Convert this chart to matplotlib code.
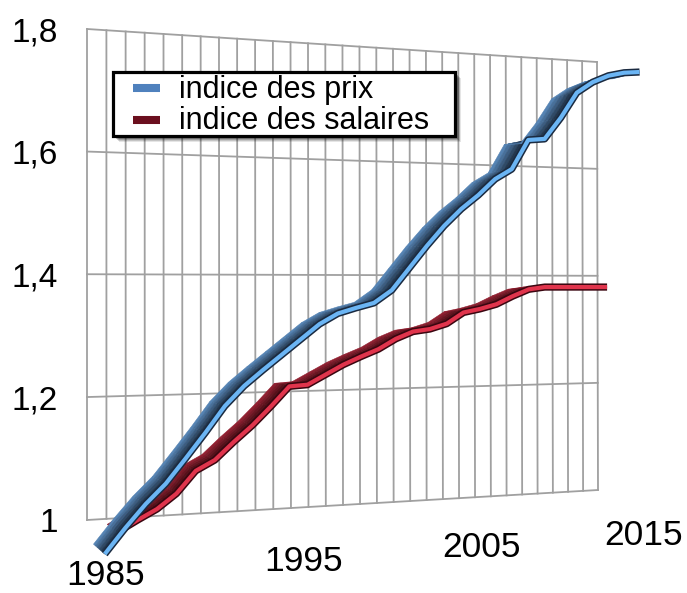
import numpy as np
import matplotlib
matplotlib.use("Agg")
import matplotlib.pyplot as plt
from matplotlib import transforms as mtransforms
from matplotlib.patches import Polygon, Rectangle

# ---------------- data ----------------
annees_prix = list(range(1985, 2016))
indice_prix = [0.970, 1.008, 1.043, 1.073, 1.111, 1.150, 1.191, 1.222, 1.247, 1.271,
               1.295, 1.319, 1.336, 1.345, 1.353, 1.374, 1.411, 1.448, 1.482, 1.511,
               1.535, 1.563, 1.581, 1.632, 1.635, 1.673, 1.718, 1.738, 1.751, 1.758,
               1.761]
annees_salaires = list(range(1986, 2015))
indice_salaires = [0.992, 1.009, 1.025, 1.048, 1.083, 1.099, 1.127, 1.153, 1.183, 1.215,
                   1.217, 1.233, 1.249, 1.262, 1.274, 1.291, 1.303, 1.307, 1.316, 1.335,
                   1.341, 1.349, 1.363, 1.375, 1.379, 1.379, 1.379, 1.379, 1.379]
series_labels = ["indice des prix", "indice des salaires"]
y_ticks = [1.0, 1.2, 1.4, 1.6, 1.8]
y_tick_labels = ["1", "1,2", "1,4", "1,6", "1,8"]
x_ticks = [1985, 1995, 2005, 2015]
x_tick_labels = ["1985", "1995", "2005", "2015"]

X_MIN, X_MAX = 1985, 2015
Y_MIN, Y_MAX = 1.0, 1.8

FONT = ["Liberation Sans", "DejaVu Sans"]

# ---------------- perspective (3-D look) ----------------
wall_src = [(0, 0), (1, 0), (1, 1), (0, 1)]
wall_dst = [(87, 520), (598, 490), (597, 62), (87, 29)]
VANISH = (-201.0, 286.0)   # vanishing point of the depth direction


def homography(src, dst):
    A, b = [], []
    for (u, v), (x, y) in zip(src, dst):
        A.append([u, v, 1, 0, 0, 0, -u * x, -v * x]); b.append(x)
        A.append([0, 0, 0, u, v, 1, -u * y, -v * y]); b.append(y)
    h = np.linalg.solve(np.array(A, float), np.array(b, float))
    return np.append(h, 1.0).reshape(3, 3)


HW = homography(wall_src, wall_dst)
ZC = np.array([VANISH[0], VANISH[1], 1.0])


class Persp(mtransforms.Transform):
    """(year, value) on a plane parallel to the wall at depth s -> pixels."""
    input_dims = 2
    output_dims = 2
    is_separable = False
    has_inverse = False

    def __init__(self, s=0.0):
        super().__init__()
        self.s = s

    def transform_non_affine(self, values):
        values = np.asarray(values, float).reshape(-1, 2)
        u = (values[:, 0] - X_MIN) / (X_MAX - X_MIN)
        v = (values[:, 1] - Y_MIN) / (Y_MAX - Y_MIN)
        vec = HW @ np.vstack([u, v, np.ones_like(u)]) + self.s * ZC[:, None]
        return np.column_stack([vec[0] / vec[2], vec[1] / vec[2]])


fig = plt.figure(figsize=(6.87, 5.93), dpi=100)
ax = fig.add_axes([0, 0, 1, 1])
ax.set_xlim(0, 687)
ax.set_ylim(593, 0)
ax.axis("off")

wall = Persp(0.0) + ax.transData

# wall grid
GRID = "#a0a0a0"
for yr in range(X_MIN, X_MAX + 1):
    ax.plot([yr, yr], [Y_MIN, Y_MAX], transform=wall, color=GRID, lw=1.3, zorder=1)
for val in y_ticks:
    ax.plot([X_MIN, X_MAX], [val, val], transform=wall, color=GRID, lw=1.3, zorder=1)

# y tick labels next to the wall
ylab_tr = wall + mtransforms.ScaledTranslation(-0.29, -0.12, fig.dpi_scale_trans)
for val, lab in zip(y_ticks, y_tick_labels):
    ax.text(X_MIN, val, lab, transform=ylab_tr, ha="right", va="baseline",
            fontsize=24, family=FONT, color="black")

# x tick labels at the front
xlab_tr = Persp(-0.062) + ax.transData + \
    mtransforms.ScaledTranslation(0, -0.07, fig.dpi_scale_trans)
for yr, lab in zip(x_ticks, x_tick_labels):
    ax.text(yr, 0.935, lab, transform=xlab_tr, ha="center", va="baseline",
            fontsize=25.5, family=FONT, color="black")


def mix(c1, c2, t):
    c1 = np.array(matplotlib.colors.to_rgb(c1))
    c2 = np.array(matplotlib.colors.to_rgb(c2))
    return tuple(c1 + (c2 - c1) * t)


def ribbon(xs, ys, s_front, depth, face_back, face_front, edge_dark, edge_light, z):
    pts = np.column_stack([xs, ys])
    n_strip = 6
    ss = np.linspace(s_front + depth, s_front, n_strip + 1)
    scr = [Persp(s).transform(pts) for s in ss]
    for i in range(len(xs) - 1):
        for j in range(n_strip):
            a, b = scr[j], scr[j + 1]
            quad = [a[i], a[i + 1], b[i + 1], b[i]]
            col = mix(face_back, face_front, (j + 0.5) / n_strip)
            ax.add_patch(Polygon(quad, closed=True, fc=col, ec=col, lw=0.4, zorder=z))
    front = Persp(s_front) + ax.transData
    ax.plot(xs, ys, transform=front, color=edge_dark, lw=5.2, zorder=z + 1,
            solid_joinstyle="round", solid_capstyle="butt")
    ax.plot(xs, ys, transform=front, color=edge_light, lw=3.0, zorder=z + 2,
            solid_joinstyle="round", solid_capstyle="butt")


# salaires (behind)
ribbon(annees_salaires, indice_salaires, -0.0346, 0.032,
       "#9a2234", "#2a0308", "#3a0610", "#e0344c", z=3)
# prix (front)
ribbon(annees_prix, indice_prix, -0.0581, 0.036,
       "#5b8cc0", "#101a28", "#1a2a40", "#6bb5f4", z=6)

# legend (framed box with soft shadow)
lx, ly, lw_, lh = 113, 72, 342, 64
for k, alpha in enumerate([0.10, 0.14, 0.18, 0.22]):
    off = 6 - k
    ax.add_patch(Rectangle((lx + off, ly + off), lw_, lh, fc="black", ec="none",
                           alpha=alpha, zorder=10))
ax.add_patch(Rectangle((lx, ly), lw_, lh, fc="white", ec="black", lw=2.3, zorder=11))
legend_colors = ["#4f81bd", "#6b0f1e"]
for k, (lab, col) in enumerate(zip(series_labels, legend_colors)):
    yc = 88 + 32 * k
    ax.plot([133, 160], [yc, yc], color=col, lw=5.8, solid_capstyle="butt", zorder=12)
    ax.text(179, 98 + 31 * k, lab, ha="left", va="baseline", fontsize=22,
            family=FONT, color="black", zorder=12)

fig.savefig("out.png", dpi=100)
